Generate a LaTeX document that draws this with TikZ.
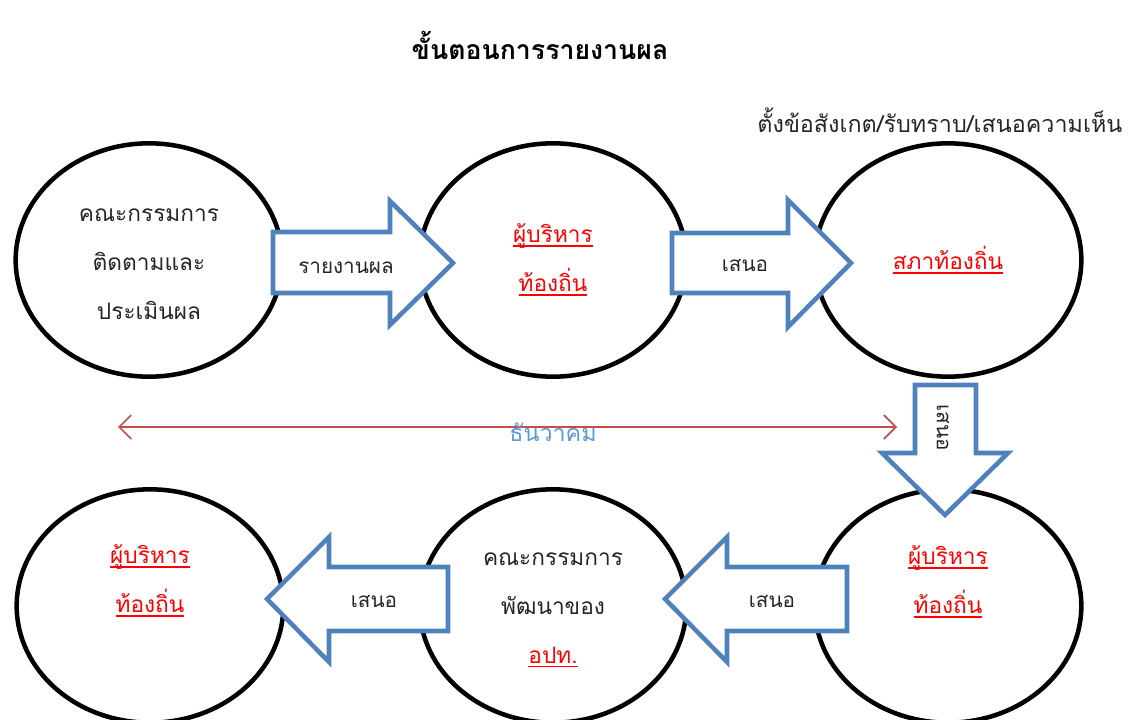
\documentclass[tikz,border=0pt]{standalone}
\usepackage{fontspec}
\newfontfamily\thai[Script=Thai]{Loma}
\usetikzlibrary{shapes.geometric,arrows.meta}
\definecolor{arrblue}{HTML}{4F81BD}
\definecolor{linered}{HTML}{C0504D}
\definecolor{lightblue}{HTML}{5B9BD5}
\definecolor{thred}{HTML}{FF0000}
\newcommand{\ru}[1]{\textcolor{thred}{\setbox0\hbox{#1}\rlap{\rule[-3pt]{\wd0}{1.2pt}}\box0}}
\begin{document}
\begin{tikzpicture}[x=0.75pt,y=-0.75pt,
  oval/.style={ellipse, draw=black, line width=3.4pt, fill=white, minimum width=200pt, minimum height=175pt},
  ovaltext/.style={align=center, font=\thai\fontsize{17}{36.75}\selectfont, text=black!85},
  blockarrow/.style={draw=arrblue, line width=3.4pt, fill=white, line join=miter},
  arrlabel/.style={font=\thai\fontsize{15.5}{17}\selectfont, text=black!85},
  timeline/.style={draw=linered, line width=1.3pt, {Straight Barb[length=9pt,width=18pt]}-{Straight Barb[length=9pt,width=18pt]}}]
\useasboundingbox (0,0) rectangle (1128,720);
% title and note
\node[font=\thai\bfseries\fontsize{20}{22}\selectfont] (title) at (540,45) {ขั้นตอนการรายงานผล};
\node[font=\thai\fontsize{17.5}{19}\selectfont, anchor=east, text=black!85] (note) at (1127,120) {ตั้งข้อสังเกต/รับทราบ/เสนอความเห็น};
% ellipses
\node[oval] (e1) at (149,260) {};
\node[oval] (e2) at (553,260) {};
\node[oval] (e3) at (948,260) {};
\node[oval] (e4) at (948,606) {};
\node[oval] (e5) at (553,606) {};
\node[oval] (e6) at (150,606) {};
% ellipse texts
\node[ovaltext] (e1t) at ([yshift=-3pt]e1.center) {คณะกรรมการ\\ติดตามและ\\ประเมินผล};
\node[ovaltext] (e2t) at (e2.center) {\ru{ผู้บริหาร}\\\ru{ท้องถิ่น}};
\node[ovaltext] (e3t) at (e3.center) {\ru{สภาท้องถิ่น}};
\node[ovaltext] (e4t) at ([yshift=18pt]e4.center) {\ru{ผู้บริหาร}\\\ru{ท้องถิ่น}};
\node[ovaltext] (e5t) at ([yshift=-3pt]e5.center) {คณะกรรมการ\\พัฒนาของ\\\ru{อปท.}};
\node[ovaltext] (e6t) at ([yshift=19pt]e6.center) {\ru{ผู้บริหาร}\\\ru{ท้องถิ่น}};
% block arrows
\draw[blockarrow] (273,232) -- (390,232) -- (390,201) -- (453,263) -- (390,325) -- (390,293) -- (273,293) -- cycle;
\node[arrlabel] (l1) at (346,268) {รายงานผล};
\draw[blockarrow] (672,233) -- (788,233) -- (788,200) -- (851,263) -- (788,327) -- (788,293) -- (672,293) -- cycle;
\node[arrlabel] (l2) at (745,265) {เสนอ};
\draw[blockarrow] (915,385) -- (976,385) -- (976,453) -- (1008,453) -- (945,515) -- (882,453) -- (915,453) -- cycle;
\node[arrlabel, rotate=-90] (l3) at (943,428) {เสนอ};
\draw[blockarrow] (847,567) -- (727,567) -- (727,537) -- (665,599) -- (727,662) -- (727,631) -- (847,631) -- cycle;
\node[arrlabel] (l4) at (772,601) {เสนอ};
\draw[blockarrow] (448,567) -- (329,567) -- (329,537) -- (267,599) -- (329,662) -- (329,631) -- (448,631) -- cycle;
\node[arrlabel] (l5) at (374,601) {เสนอ};
% timeline
\coordinate (t1) at (118,427);
\coordinate (t2) at (897,427);
\draw[timeline] (t1) -- (t2);
\node[font=\thai\fontsize{17.5}{19}\selectfont, text=lightblue] (month) at (553,432) {ธันวาคม};
\end{tikzpicture}
\end{document}
